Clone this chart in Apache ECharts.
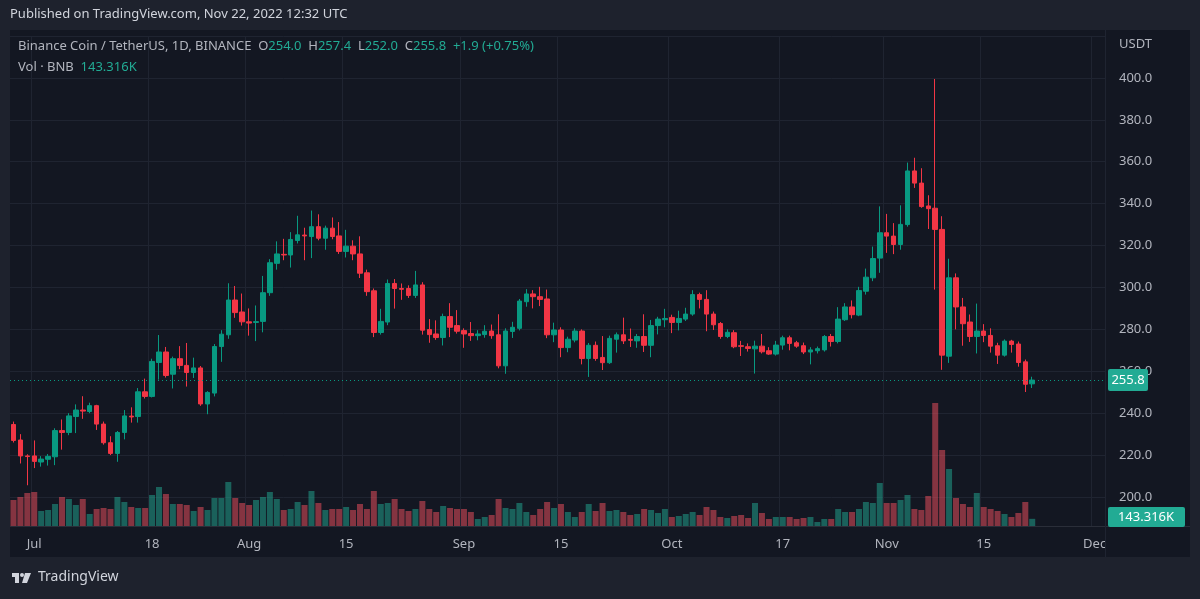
<!DOCTYPE html>
<html><head><meta charset="utf-8">
<script src="https://cdn.jsdelivr.net/npm/echarts@6/dist/echarts.min.js"></script>
<style>html,body{margin:0;padding:0;background:#1e222d;}#c{width:1200px;height:599px;}</style>
</head><body><div id="c"></div>
<script>
const startDate = [2022, 5, 28]; // Jun 28, 2022
const totalDays = 158;           // axis runs to Dec 2
const tickLabels = {'07-01':'Jul','07-18':'18','08-01':'Aug','08-15':'15','09-01':'Sep','09-15':'15','10-01':'Oct','10-17':'17','11-01':'Nov','11-15':'15','12-01':'Dec'};
const opens = [234.6,227.2,219.6,219.6,216.7,218,219.2,231.7,230.8,238.4,241.5,240.8,243.6,234.8,225.9,220.8,230.8,238.6,238.4,250.2,248,264.2,269.2,258.6,266,262.8,259.4,261.6,244.4,249.6,271.8,277.4,294,288.3,283.6,
283.3,283.8,297.5,311.5,315.8,315.5,322.4,325,324.3,329,323.5,328.3,324.6,317.2,319.7,316,307,298.4,278.5,283.5,301.9,299.5,299.5,296.2,301.2,279.9,277.8,276.1,286.1,281.8,279.4,278,277,277.5,
279.2,277.4,262.6,279,280.5,293.2,296.9,295.6,294.5,277.4,279.7,271.3,274.9,279.2,266.1,272.4,266.6,264.1,275.3,277.4,275.2,274.5,276.6,272.4,281.8,284.6,285.7,283.3,284.9,287.3,296.6,294.3,287.3,282.8,276.6,
278.4,272.2,271.7,270.7,272,269.8,268.2,272.5,276,273.6,272.2,269.2,269.8,270.2,276.6,274.2,284.6,290.7,286.8,298.2,304.6,314,326.1,324.5,320.5,330,355.6,
349.8,338.9,337.8,327.7,267.2,304.6,290.7,283.5,276.6,279.2,277.1,272.2,267.7,274.4,273,264.5,254.0];
const closes = [227,219.6,219.3,217,218.1,219.4,231.7,230.8,238.7,241.5,241,243.6,234.8,225.9,220.8,230.8,238.7,238.2,250.2,248,264.7,269.2,258,266,262.8,259.4,261.6,244.4,249.9,271.8,277.7,294,288,283.6,283,
283.7,297.5,311.8,316,315.5,322.9,325.1,324.6,329,323.5,328.3,324.3,317.2,319.7,316,306.8,298,278.5,283.8,301.9,299.5,299.1,296.2,301.2,279.6,277.5,276.1,286.1,281,279.1,277.8,277,277.8,279.1,
277,262.6,279.2,281,293.5,296.9,295.6,294.3,277.4,279.7,271.3,275.3,279.2,266.1,272.4,266.1,264.1,275.7,277.4,274.5,274.8,276.6,272.4,281.8,284.9,285.2,283.3,285.2,287.3,296.6,294.3,287.3,282.2,276.6,278.6,
271.7,271.9,270.9,272,269.3,268.2,272.5,276,273.3,272,269.2,270.2,270.8,276.6,274.2,284.9,290.7,287,298.5,304.9,313.8,326.1,324.5,320.5,330.1,355.6,349.8,
338.6,337.6,327.7,267.7,304.6,290.7,282.7,276.6,279.2,277.1,272,267.7,274.4,272.8,264.2,253.8,255.8];
const highs = [236,230,220.4,227,219.5,220.5,232.8,237,240,244.2,248.1,245,244,236,229,231.5,241.5,242.8,252,256.5,266,277.3,271.6,267,272,273.5,266.5,262.5,250.5,273,279.6,302,300.7,297.1,290,
291.4,305.5,313.5,322,323.2,326.4,334.2,328.5,336.7,334.9,329.5,333.4,331.2,327.5,322.5,324.4,308.5,299.5,289.8,303.8,304,301.9,301,307.9,302.5,284.9,284.3,287.5,292.5,289.2,280.5,283.5,279.6,282,
282.3,287.2,280.5,283.6,294.5,299.2,298.7,300.3,299,283.2,281,276.5,280.5,280,273.5,274.2,276.8,277,278.5,285.6,280.4,277.8,287.2,284.5,286,289.8,287,288.9,290.3,298.7,297.5,298.7,288.5,283.5,280,
279.6,274.5,273.3,274.6,277.8,271.5,274.5,277,277,274.5,273.7,271.5,271.8,277.3,277.8,290.6,292.5,293.8,300.3,309,319.5,338.7,335.1,330.7,339.2,359.6,361.9,
356.9,344,399.5,334,313.7,306.7,295,287.1,292.3,282.5,280.5,273.6,275.2,275,274.2,265.6,257.4];
const lows = [226,216,205.6,213.8,214.5,215,215.2,222.6,229.5,230.5,237.3,240,232,225,220,216.8,227.5,235.5,235.5,247,247.5,256,257,251.8,261,252.7,256.8,243.5,239.5,248,264.5,275.5,285.5,281.8,277,
274.4,278.6,296,308.5,313,309.5,321,313,314,322.5,318,323,316,314.3,313,304.5,296,276.3,277.5,282,289.9,294.1,295,295,277.5,273.6,275,272.3,276.3,278,271.2,274.5,274.8,276,
275.5,261.4,258.8,275.9,279.5,290.8,290,291.1,275.8,273.9,266.7,269.1,273.8,263.3,257.3,265,260.6,263.5,268.9,273,271.6,271.2,269.2,266.7,277.6,281,278.2,279.5,284,286.5,290,279.1,279.7,275.5,275.8,
271,267.3,269.4,258.9,268.5,267.8,267.5,270.3,270,271.2,268.2,263.3,268.5,269.4,271.8,273.3,284,285.2,286.3,296.6,303,307,316.5,315.9,318,329,347.5,
338,327.9,299,260.7,264,280,272.2,274,268.5,273.9,268.9,263.5,267,268.9,262.2,250.1,252];
const volumes = [520,580,660,680,300,320,440,580,540,420,540,240,340,360,340,580,480,380,360,360,620,780,640,440,440,420,300,380,320,560,560,880,560,460,420,
520,580,680,540,320,340,480,420,700,460,320,340,340,380,320,440,340,700,440,460,540,340,300,340,500,340,280,400,360,340,340,280,140,180,220,
540,360,340,460,280,220,340,480,360,440,280,180,280,440,300,460,300,320,280,220,240,340,320,260,340,180,200,240,280,220,380,320,180,160,
200,220,160,460,260,140,180,180,180,140,160,180,80,140,140,340,280,280,340,480,460,860,460,460,520,620,340,
320,600,2460,1520,1140,560,440,380,660,380,340,300,240,180,260,480,143.316];

const pad = n => (n < 10 ? '0' : '') + n;
const dates = [];
for (let i = 0; i < totalDays; i++) {
  const d = new Date(Date.UTC(startDate[0], startDate[1], startDate[2] + i));
  dates.push(pad(d.getUTCMonth() + 1) + '-' + pad(d.getUTCDate()));
}
const candleData = opens.map((o, i) => [o, closes[i], lows[i], highs[i]]);
const UP = '#089981', DOWN = '#f23645', TAG = '#22ab94';
const volData = volumes.map((v, i) => ({value: v, itemStyle: {color: closes[i] >= opens[i] ? 'rgba(34,171,148,0.5)' : 'rgba(247,82,95,0.5)'}}));
const isTick = (idx) => tickLabels[dates[idx]] !== undefined;
const FONT = '"Noto Sans", "Liberation Sans", sans-serif';
const chart = echarts.init(document.getElementById('c'));
const gridLine = {show: true, lineStyle: {color: '#1f2431', width: 1}};
chart.setOption({
  backgroundColor: '#131722',
  animation: false,
  textStyle: {fontFamily: FONT},
  grid: [
    {left: 10, right: 95, top: 36, height: 461},
    {left: 10, right: 95, top: 400, height: 126}
  ],
  xAxis: [
    {type: 'category', data: dates, gridIndex: 0, boundaryGap: true, axisLine: {show: false}, axisTick: {show: false}, axisLabel: {show: false},
     splitLine: {show: true, interval: isTick, lineStyle: {color: '#1f2431'}}},
    {type: 'category', data: dates, gridIndex: 1, boundaryGap: true, axisLine: {show: false}, axisTick: {show: false},
     axisLabel: {interval: isTick, formatter: v => tickLabels[v] || '', color: '#b2b5be', fontSize: 13, margin: 12, fontFamily: FONT},
     splitLine: {show: true, interval: isTick, lineStyle: {color: '#1f2431'}}}
  ],
  yAxis: [
    {type: 'value', gridIndex: 0, position: 'right', min: 200, max: 420, interval: 20, axisLine: {show: false}, axisTick: {show: false},
     axisLabel: {color: '#b2b5be', fontSize: 13, margin: 14, formatter: v => v >= 420 ? '' : v.toFixed(1), fontFamily: FONT},
     splitLine: gridLine},
    {type: 'value', gridIndex: 1, min: 0, max: 2520, show: false, splitLine: {show: false}}
  ],
  series: [
    {type: 'bar', xAxisIndex: 1, yAxisIndex: 1, data: volData, barWidth: 6, barGap: 0},
    {type: 'candlestick', xAxisIndex: 0, yAxisIndex: 0, data: candleData, barWidth: 5,
     itemStyle: {color: UP, color0: DOWN, borderColor: UP, borderColor0: DOWN, borderWidth: 1},
     markLine: {symbol: 'none', silent: true, label: {show: false}, lineStyle: {color: UP, type: [1, 3], width: 1}, data: [{yAxis: 255.8}]}}
  ]
});
const py = chart.convertToPixel({yAxisIndex: 0}, 255.8);
chart.setOption({graphic: [
  {type: 'rect', shape: {x: 0, y: 0, width: 1200, height: 30}, style: {fill: '#1e222d'}, z: 100},
  {type: 'rect', shape: {x: 0, y: 557, width: 1200, height: 42}, style: {fill: '#1e222d'}, z: 100},
  {type: 'rect', shape: {x: 0, y: 0, width: 10, height: 599}, style: {fill: '#1e222d'}, z: 100},
  {type: 'rect', shape: {x: 1190, y: 0, width: 10, height: 599}, style: {fill: '#1e222d'}, z: 100},
  {type: 'line', shape: {x1: 10, y1: 526.5, x2: 1190, y2: 526.5}, style: {stroke: '#2a2e39', lineWidth: 1}, z: 100},
  {type: 'line', shape: {x1: 1105.5, y1: 30, x2: 1105.5, y2: 557}, style: {stroke: '#1f2431', lineWidth: 1}, z: 100},
  {type: 'text', left: 10, top: 8, style: {text: 'Published on TradingView.com, Nov 22, 2022 12:32 UTC', fill: '#d1d4dc', font: '13px ' + FONT}, z: 101},
  {type: 'text', left: 18, top: 40, style: {rich: {
    a: {fill: '#b2b5be', font: '13px ' + FONT}, g: {fill: TAG, font: '13px ' + FONT}},
    text: '{a|Binance Coin / TetherUS, 1D, BINANCE  O}{g|254.0}{a|  H}{g|257.4}{a|  L}{g|252.0}{a|  C}{g|255.8}{g|  +1.9 (+0.75%)}'}, z: 101},
  {type: 'text', left: 18, top: 61, style: {rich: {
    a: {fill: '#b2b5be', font: '13px ' + FONT}, g: {fill: TAG, font: '13px ' + FONT}},
    text: '{a|Vol · BNB  }{g|143.316K}'}, z: 101},
  {type: 'text', left: 1119, top: 38, style: {text: 'USDT', fill: '#b2b5be', font: '13px ' + FONT}, z: 101},
  {type: 'rect', shape: {x: 1108, y: py - 11, width: 40, height: 22, r: 2}, style: {fill: TAG}, z: 101},
  {type: 'text', x: 1128, y: py, style: {text: '255.8', fill: '#ffffff', font: '13px ' + FONT, align: 'center', verticalAlign: 'middle'}, z: 102},
  {type: 'rect', shape: {x: 1108, y: 507, width: 77, height: 20, r: 2}, style: {fill: TAG}, z: 101},
  {type: 'text', x: 1146, y: 517, style: {text: '143.316K', fill: '#ffffff', font: '13px ' + FONT, align: 'center', verticalAlign: 'middle'}, z: 102},
  {type: 'rect', shape: {x: 12, y: 573, width: 7, height: 4}, style: {fill: '#d1d4dc'}, z: 101},
  {type: 'rect', shape: {x: 15, y: 573, width: 4, height: 10}, style: {fill: '#d1d4dc'}, z: 101},
  {type: 'circle', shape: {cx: 22, cy: 575, r: 2}, style: {fill: '#d1d4dc'}, z: 101},
  {type: 'polygon', shape: {points: [[25, 573], [31, 573], [27, 583], [22, 583]]}, style: {fill: '#d1d4dc'}, z: 101},
  {type: 'text', left: 38, top: 570, style: {text: 'TradingView', fill: '#d1d4dc', font: '14px ' + FONT}, z: 101}
]});
</script></body></html>
